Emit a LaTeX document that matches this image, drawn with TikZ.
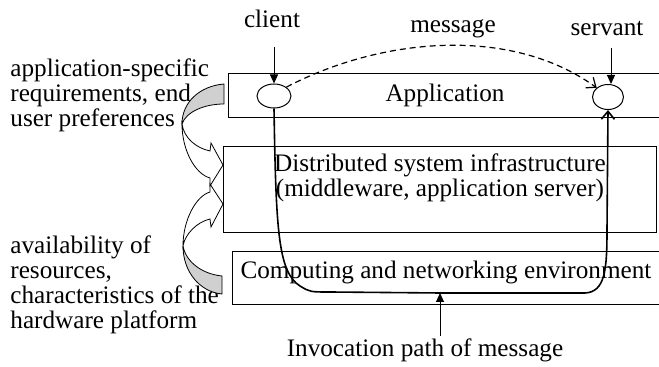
\documentclass[tikz,border=0pt]{standalone}
\usepackage{fontspec}
\setmainfont{Liberation Serif}
\usetikzlibrary{arrows.meta,shapes.geometric}
\definecolor{bandgray}{RGB}{208,208,208}

\tikzset{
    layer/.style={draw, rectangle, line width=0.5pt, inner sep=0pt, anchor=north west},
    endpt/.style={draw, ellipse, line width=0.5pt, inner sep=0pt},
    lbl/.style={inner sep=1pt, font=\fontsize{12.6}{12.5}\selectfont},
    tri/.style={line width=0.5pt, -{Triangle[length=4.5pt,width=4pt]}},
    barb/.style={-{Straight Barb[length=4pt,width=6.5pt]}},
    band/.style={draw, line width=0.4pt}
}

\begin{document}
\begin{tikzpicture}[x=0.5pt,y=-0.5pt]
    \useasboundingbox (0,0) rectangle (659,367);
    \clip (0,0) rectangle (659,367);

    % the three layers
    \node[layer, minimum width=217pt, minimum height=22pt] (app) at (228,73) {};
    \node[layer, minimum width=216.5pt, minimum height=43pt] (mid) at (223,146) {};
    \node[layer, minimum width=220pt, minimum height=26.5pt] (env) at (232,251) {};

    \node[lbl] (apptxt) at (445,95) {Application};
    \node[lbl, align=center] (midtxt) at (440,178) {Distributed system infrastructure\\(middleware, application server)};
    \node[lbl] (envtxt) at (446,272) {Computing and networking environment};

    % client and servant
    \node[endpt, minimum width=17pt, minimum height=12pt] (cl) at (274,96) {};
    \node[endpt, minimum width=15.5pt, minimum height=12.5pt] (sv) at (608,97) {};

    \node[lbl] (client) at (272,19) {client};
    \node[lbl] (servant) at (607,29) {servant};
    \node[lbl] (message) at (453,29) {message};

    \coordinate (cltop) at (274,47);
    \coordinate (svtop) at (611,48);
    \draw[tri] (cltop) -- (cl.north);
    \draw[tri] (svtop) -- (svtop |- sv.north);

    \draw[barb, dashed, dash pattern=on 3pt off 2pt, line width=0.6pt]
        (cl.north east) .. controls (380,38) and (510,25) .. (sv.north west);

    % invocation path
    \coordinate (pb) at (440,293);
    \draw[barb, line width=0.8pt] (cl.south) .. controls (276,230) and (278,272) .. (300,286)
        .. controls (310,292) .. (330,292) -- (pb) -- (585,293)
        .. controls (605,292) and (607,270) .. (607,230) -- (sv.south);

    \node[lbl] (inv) at (425,350) {Invocation path of message};
    \draw[tri] (inv.north -| pb) -- (pb);

    % side labels
    \node[lbl, align=left, anchor=west] (req) at (8,95) {application-specific\\requirements, end\\user preferences};
    \node[lbl, align=left, anchor=west] (res) at (8,285) {availability of\\resources,\\characteristics of the\\hardware platform};

    % curved arrows
    \filldraw[band, fill=bandgray] (224,84) .. controls (200,86) and (182,102) .. (182,124)
        .. controls (186,112) and (204,104) .. (224,104) -- cycle;
    \draw[band, fill=white] (182,124) .. controls (182,150) and (195,174) .. (210,178)
        -- (210,186) -- (223,165) -- (211,143) -- (210,151)
        .. controls (196,148) and (184,138) .. (182,124) -- cycle;
    \filldraw[band, fill=bandgray] (222,294) .. controls (200,292) and (183,272) .. (183,246)
        .. controls (186,262) and (202,274) .. (222,276) -- cycle;
    \draw[band, fill=white] (183,246) .. controls (183,220) and (196,196) .. (210,192)
        -- (210,184) -- (223,204) -- (211,227) -- (210,219)
        .. controls (197,222) and (185,234) .. (183,246) -- cycle;
\end{tikzpicture}
\end{document}
